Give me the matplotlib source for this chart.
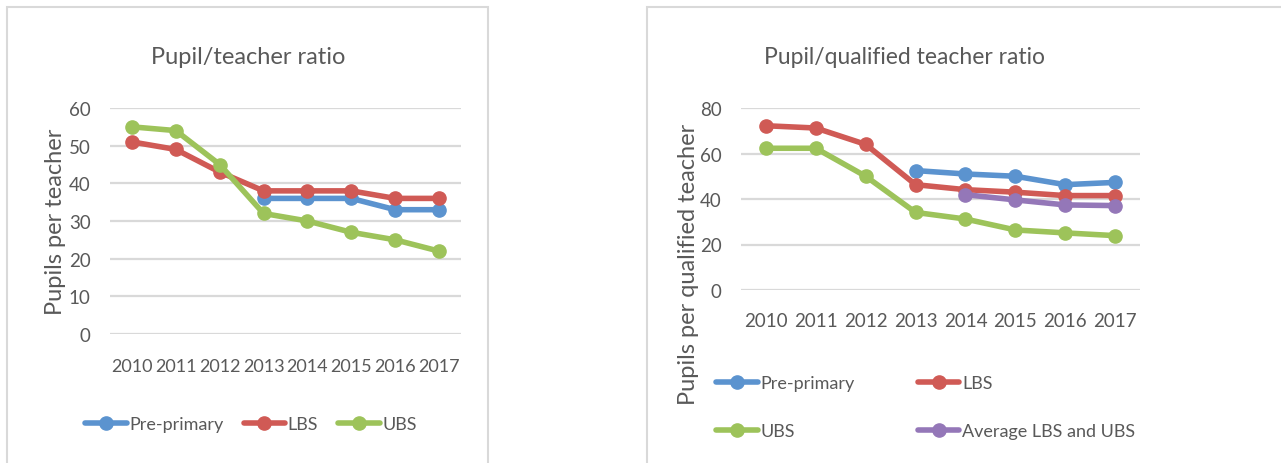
import matplotlib
matplotlib.use("Agg")
import matplotlib.pyplot as plt
from matplotlib.patches import Rectangle
import numpy as np

plt.rcParams['font.family'] = ['Lato', 'DejaVu Sans']

years = ['2010', '2011', '2012', '2013', '2014', '2015', '2016', '2017']

# pupil / teacher ratio
pt_pre = [np.nan, np.nan, np.nan, 36, 36, 36, 33, 33]
pt_lbs = [51, 49, 43, 38, 38, 38, 36, 36]
pt_ubs = [55, 54, 45, 32, 30, 27, 25, 22]

# pupil / qualified teacher ratio
pq_pre = [np.nan, np.nan, np.nan, 52.5, 51, 50, 46.3, 47.3]
pq_lbs = [72.2, 71.2, 64, 46.3, 44.1, 43, 41.5, 41.5]
pq_ubs = [62.3, 62.3, 50, 34.1, 31.2, 26.4, 25.1, 23.9]
pq_avg = [np.nan, np.nan, np.nan, np.nan, 41.9, 39.6, 37.4, 37.1]

BLUE = '#5B93CF'
RED = '#D05A55'
GREEN = '#9DC35A'
PURPLE = '#9477B8'
TXT = '#595959'
GRID = '#D9D9D9'

W, H = 1281, 464
fig = plt.figure(figsize=(W/100, H/100), dpi=100)

# panel frames
for x0, w in [(7, 481), (647, 700)]:
    fig.add_artist(Rectangle((x0/W, -0.05), w/W, 1 - 8/H + 0.05,
                             transform=fig.transFigure, fill=False,
                             edgecolor=GRID, lw=1.5))


def style_ax(ax, ymax, step, xsize):
    ax.set_xlim(-0.5, len(years) - 0.5)
    ax.set_ylim(0, ymax)
    ax.set_yticks(np.arange(0, ymax + 1, step))
    ax.set_xticks(range(len(years)))
    ax.set_xticklabels(years)
    ax.grid(axis='y', color=GRID, lw=1.6)
    ax.set_axisbelow(True)
    for s in ax.spines.values():
        s.set_visible(False)
    ax.tick_params(length=0, colors=TXT, labelsize=13.5)
    ax.tick_params(axis='x', pad=17, labelsize=xsize)
    ax.tick_params(axis='y', pad=14)


def plot_line(ax, vals, color, label):
    ax.plot(range(len(years)), vals, color=color, lw=4, marker='o',
            markersize=9.5, label=label, solid_capstyle='round')


leg_kw = dict(frameon=False, fontsize=13, labelcolor=TXT, handlelength=2.3,
              handletextpad=0.15, bbox_transform=fig.transFigure)

ax1 = fig.add_axes([110/W, 1 - 335/H, 351/W, 226/H])
plot_line(ax1, pt_pre, BLUE, 'Pre-primary')
plot_line(ax1, pt_lbs, RED, 'LBS')
plot_line(ax1, pt_ubs, GREEN, 'UBS')
style_ax(ax1, 60, 10, 13)
ax1.set_ylabel('Pupils per teacher', color=TXT, fontsize=17)
ax1.yaxis.set_label_coords(-0.125, 0.5)
fig.text(248/W, 1 - 57/H, 'Pupil/teacher ratio', ha='center', va='center',
         color=TXT, fontsize=17)
ax1.legend(loc='center', bbox_to_anchor=(251/W, 1 - 425/H), ncol=3,
           columnspacing=1.1, **leg_kw)

ax2 = fig.add_axes([741/W, 1 - 291/H, 399/W, 182/H])
plot_line(ax2, pq_pre, BLUE, 'Pre-primary')
plot_line(ax2, pq_lbs, RED, 'LBS')
plot_line(ax2, pq_ubs, GREEN, 'UBS')
plot_line(ax2, pq_avg, PURPLE, 'Average LBS and UBS')
style_ax(ax2, 80, 20, 13.5)
ax2.tick_params(axis='x', pad=16)
ax2.set_ylabel('Pupils per qualified teacher', color=TXT, fontsize=17)
ax2.yaxis.set_label_coords(-0.105, 0.148)
fig.text(905/W, 1 - 57/H, 'Pupil/qualified teacher ratio', ha='center',
         va='center', color=TXT, fontsize=16.5)
h, l = ax2.get_legend_handles_labels()
order = [0, 2, 1, 3]
ax2.legend([h[i] for i in order], [l[i] for i in order], loc='upper left',
           bbox_to_anchor=(700/W, 1 - 360/H), ncol=2, columnspacing=3.5,
           labelspacing=1.75, **leg_kw)

fig.savefig('out.png', dpi=100)
